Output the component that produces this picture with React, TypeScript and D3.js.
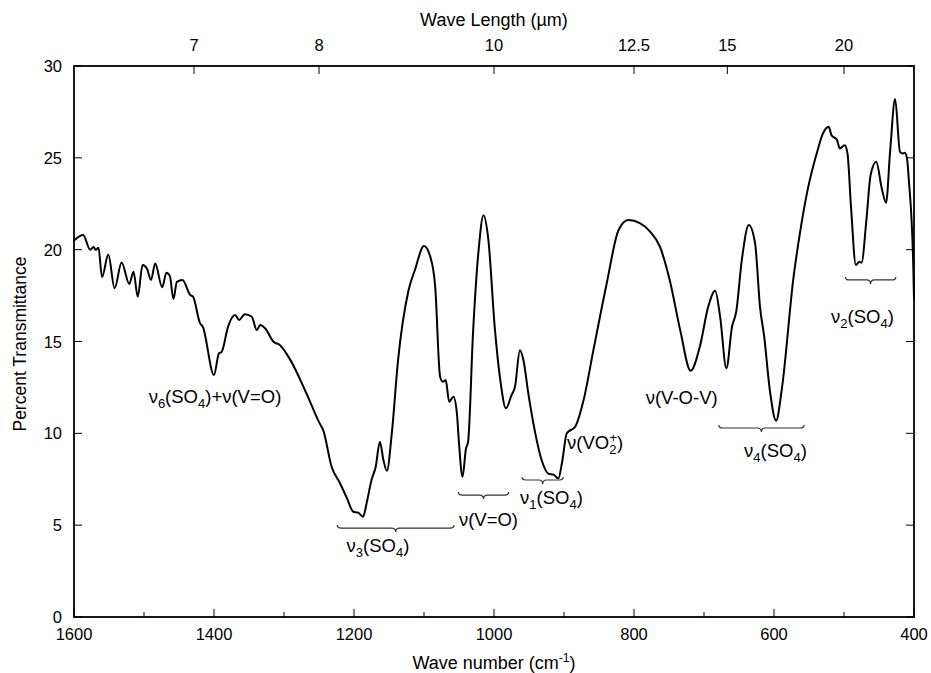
import React from 'react';
import * as d3 from 'd3';

// spectrum: wave number (cm-1) and percent transmittance
const waveNumber = [
  1600, 1587, 1577, 1572, 1569, 1565, 1560, 1551, 1542, 1532, 1521, 1515, 1509, 1502, 1496, 1490,
  1484, 1474, 1468, 1463, 1458, 1453, 1445, 1434, 1430, 1420, 1416, 1400, 1393, 1389, 1380, 1370,
  1364, 1356, 1346, 1339, 1334, 1327, 1315, 1306, 1291, 1268, 1249, 1244, 1232, 1220, 1210, 1201,
  1194, 1187, 1182, 1175, 1169, 1163, 1158, 1153, 1146, 1137, 1122, 1113, 1100, 1091, 1084, 1077,
  1073, 1069, 1064, 1058, 1053, 1050, 1045, 1040, 1037, 1030, 1022, 1015, 1008, 999, 991, 983,
  975, 970, 963, 958, 951, 941, 932, 922, 915, 908, 903, 896, 884, 872, 858, 839,
  822, 808, 791, 777, 763, 749, 734, 719, 706, 694, 684, 677, 668, 660, 654, 646,
  636, 627, 620, 614, 606, 597, 589, 572, 563, 551, 539, 530, 522, 518, 510, 506,
  499, 495, 490, 483, 478, 475, 468, 462, 454, 446, 440, 434, 427, 420, 416, 413,
  410, 407, 403, 401, 400,
];
const transmittance = [
  20.5, 20.8, 20.0, 20.15, 19.98, 20.1, 18.5, 19.74, 17.9, 19.3, 18.13, 18.8, 17.44, 19.16, 18.98, 18.35,
  19.25, 17.95, 18.74, 18.56, 17.31, 18.25, 18.35, 17.53, 17.44, 16.0, 15.8, 13.17, 14.35, 14.44, 15.8, 16.44,
  16.17, 16.49, 16.35, 15.62, 15.9, 15.72, 14.99, 14.81, 14.0, 12.18, 10.54, 10.18, 8.18, 7.28, 6.46, 5.73,
  5.68, 5.46, 6.19, 7.46, 8.18, 9.54, 8.55, 7.96, 10.0, 14.0, 17.8, 18.89, 20.2, 19.61, 17.98, 13.08,
  12.81, 12.9, 11.72, 11.99, 11.09, 9.46, 7.64, 9.18, 9.54, 15.44, 19.98, 21.88, 20.52, 15.8, 12.9, 11.36,
  12.08, 12.54, 14.53, 13.99, 12.18, 10.0, 8.55, 7.8, 7.75, 7.55, 8.37, 10.0, 10.36, 11.81, 14.53, 18.16,
  21.07, 21.61, 21.43, 20.98, 20.16, 18.35, 15.62, 13.41, 14.71, 16.89, 17.76, 16.35, 13.54, 15.8, 16.62, 19.43,
  21.34, 20.34, 16.89, 15.26, 12.36, 10.69, 12.36, 18.53, 20.89, 23.43, 25.24, 26.33, 26.69, 26.24, 25.97, 25.51,
  25.69, 25.24, 22.34, 19.16, 19.34, 19.29, 21.61, 24.06, 24.79, 23.33, 22.55, 25.42, 28.2, 25.33, 25.24, 25.28,
  24.97, 23.6, 21.25, 19.07, 17.3,
];

const bottomTicks = [1600, 1500, 1400, 1300, 1200, 1100, 1000, 900, 800, 700, 600, 500, 400];
const bottomLabels = [1600, 1400, 1200, 1000, 800, 600, 400];
const yTicks = [0, 5, 10, 15, 20, 25, 30];
const wavelengthTicks = [7, 8, 10, 12.5, 15, 20];

// braces: [from wn, to wn, transmittance level]
const braces = [
  [1224, 1057, 4.84],
  [1051, 979, 6.64],
  [960, 901, 7.46],
  [679, 557, 10.29],
  [498, 426, 18.35],
];

const FONT = '"Liberation Sans", Arial, Helvetica, sans-serif';

// "ν<n>(SO<4>)" style label, subscripts shifted down
const NuSO4 = ({ n, tail }: { n: string; tail?: string }) => (
  <>
    ν<tspan dy={5} fontSize={13}>{n}</tspan>
    <tspan dy={-5}>(SO</tspan>
    <tspan dy={5} fontSize={13}>4</tspan>
    <tspan dy={-5}>{')' + (tail ?? '')}</tspan>
  </>
);

export default function App() {
  const width = 931;
  const height = 673;
  const x = d3.scaleLinear().domain([1600, 400]).range([74, 914]);
  const y = d3.scaleLinear().domain([0, 30]).range([617, 66]);

  const pts: [number, number][] = waveNumber.map((w, i) => [w, transmittance[i]]);
  const line = d3
    .line<[number, number]>()
    .x((d) => x(d[0]))
    .y((d) => y(d[1]))
    .curve(d3.curveMonotoneX);

  const bracePath = (a: number, b: number, t: number) => {
    const x1 = x(a);
    const x2 = x(b);
    const yy = y(t);
    const xm = (x1 + x2) / 2;
    return `M${x1},${yy - 3} Q${x1},${yy} ${x1 + 4},${yy} L${xm - 4},${yy} Q${xm},${yy} ${xm},${yy + 4} Q${xm},${yy} ${xm + 4},${yy} L${x2 - 4},${yy} Q${x2},${yy} ${x2},${yy - 3}`;
  };

  const left = x(1600);
  const right = x(400);
  const top = y(30);
  const bottom = y(0);

  return (
    <svg
      width={width}
      height={height}
      style={{ position: 'absolute', left: 0, top: 0, background: '#fff' }}
      fontFamily={FONT}
    >
      {/* frame */}
      <rect x={left} y={top} width={right - left} height={bottom - top} fill="none" stroke="#000" strokeWidth={1.8} />

      {/* bottom axis */}
      {bottomTicks.map((t) => {
        const major = bottomLabels.includes(t);
        return (
          <line key={'b' + t} x1={x(t)} x2={x(t)} y1={bottom} y2={bottom - (major ? 8 : 5)} stroke="#000" strokeWidth={1} />
        );
      })}
      {bottomLabels.map((t) => (
        <text key={'bl' + t} x={x(t)} y={640} textAnchor="middle" fontSize={16.5}>
          {t}
        </text>
      ))}

      {/* top axis: wavelength */}
      {wavelengthTicks.map((l) => (
        <g key={'w' + l}>
          <line x1={x(10000 / l)} x2={x(10000 / l)} y1={top} y2={top + 8} stroke="#000" strokeWidth={1} />
          <text x={x(10000 / l)} y={51} textAnchor="middle" fontSize={16.5}>
            {l}
          </text>
        </g>
      ))}

      {/* y axes */}
      {yTicks.map((t) => (
        <g key={'y' + t}>
          <line x1={left} x2={left + 8} y1={y(t)} y2={y(t)} stroke="#000" strokeWidth={1} />
          <line x1={right} x2={right - 8} y1={y(t)} y2={y(t)} stroke="#000" strokeWidth={1} />
          <text x={62} y={y(t) + 6} textAnchor="end" fontSize={16.5}>
            {t}
          </text>
        </g>
      ))}

      {/* titles */}
      <text x={494} y={26} textAnchor="middle" fontSize={18}>
        Wave Length (µm)
      </text>
      <text x={494} y={669} textAnchor="middle" fontSize={18}>
        Wave number (cm<tspan dy={-7} fontSize={12}>-1</tspan>
        <tspan dy={7}>)</tspan>
      </text>
      <text transform="translate(26,344) rotate(-90)" textAnchor="middle" fontSize={17.5}>
        Percent Transmittance
      </text>

      {/* spectrum */}
      <path d={line(pts) ?? ''} fill="none" stroke="#000" strokeWidth={2} strokeLinejoin="round" />

      {/* braces */}
      {braces.map(([a, b, t], i) => (
        <path key={'br' + i} d={bracePath(a, b, t)} fill="none" stroke="#333" strokeWidth={1.2} />
      ))}

      {/* band labels */}
      <g fontSize={18.5}>
        <text x={x(1398.6)} y={y(11.65)} textAnchor="middle">
          <NuSO4 n="6" tail="+ν(V=O)" />
        </text>
        <text x={x(1165.7)} y={y(3.54)} textAnchor="middle">
          <NuSO4 n="3" />
        </text>
        <text x={x(1007.9)} y={y(4.95)} textAnchor="middle">
          ν(V=O)
        </text>
        <text x={x(917.9)} y={y(6.15)} textAnchor="middle">
          <NuSO4 n="1" />
        </text>
        <text x={x(895.7)} y={y(9.15)} textAnchor="start">
          ν(VO<tspan dy={5} fontSize={13}>2</tspan>
          <tspan dx={-7} dy={-12} fontSize={13}>+</tspan>
          <tspan dy={7}>)</tspan>
        </text>
        <text x={x(731.9)} y={y(11.6)} textAnchor="middle">
          ν(V-O-V)
        </text>
        <text x={x(597.9)} y={y(8.71)} textAnchor="middle">
          <NuSO4 n="4" />
        </text>
        <text x={x(473.6)} y={y(16.0)} textAnchor="middle">
          <NuSO4 n="2" />
        </text>
      </g>
    </svg>
  );
}
